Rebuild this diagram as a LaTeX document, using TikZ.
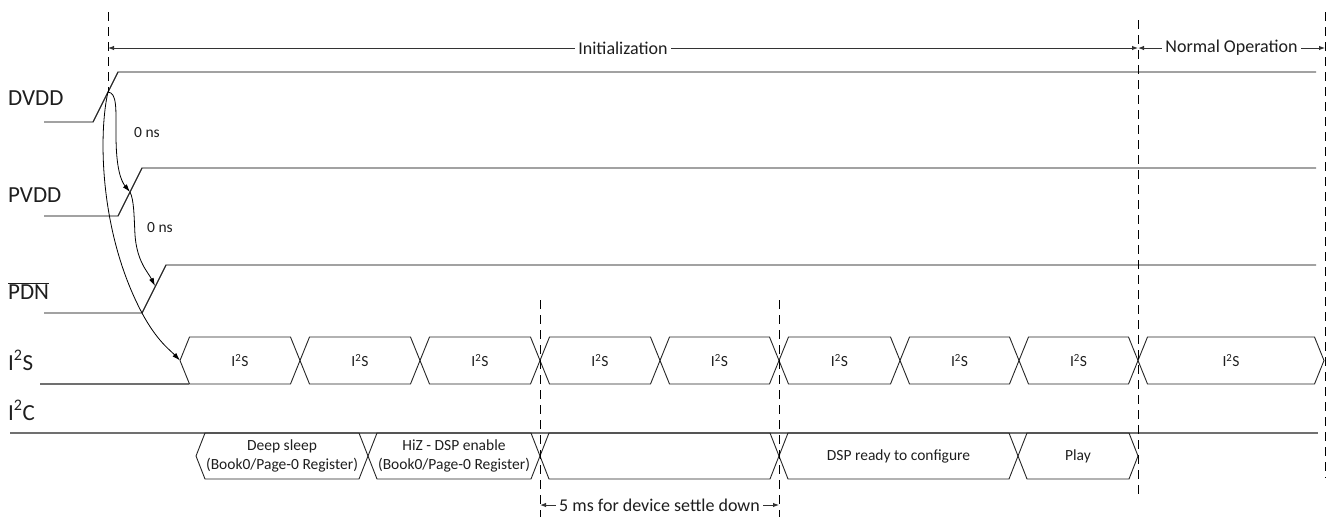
\documentclass[tikz,border=0pt]{standalone}
\usepackage{fontspec}
\setmainfont{Carlito}
\usetikzlibrary{arrows.meta}
\definecolor{sigc}{RGB}{112,112,112}
\definecolor{txtc}{RGB}{30,30,30}
\tikzset{
  sig/.style={draw=sigc, line width=1.2pt},
  edgeln/.style={draw=black!85, line width=0.9pt},
  guide/.style={draw=black, line width=1pt, dash pattern=on 9pt off 6pt},
  dimln/.style={draw=black!80, line width=1pt, {Latex[length=6pt,width=4.5pt]}-{Latex[length=6pt,width=4.5pt]}},
  dimtxt/.style={fill=white, text=txtc, inner xsep=3pt, inner ysep=1pt, font=\fontsize{18}{20}\selectfont},
  siglbl/.style={anchor=base west, inner sep=0pt, text=txtc, font=\fontsize{23}{27}\selectfont},
  boxtxt/.style={text=txtc, align=center, inner sep=0pt, font=\fontsize{15.5}{19}\selectfont},
  flow/.style={draw=black, line width=0.8pt, -{Latex[length=8pt,width=5pt]}},
}
\begin{document}
\begin{tikzpicture}[x=1pt,y=-1pt]
\useasboundingbox (0,0) rectangle (1327,517);

% ---- signal labels
\node[siglbl] (ldvdd) at (8,105) {DVDD};
\node[siglbl] (lpvdd) at (8,202) {PVDD};
\node[siglbl] (lpdn)  at (8,299) {$\overline{\mbox{PDN}}$};
\node[siglbl] (li2s)  at (8,370) {I\textsuperscript{2}S};
\node[siglbl] (li2c)  at (8,420) {I\textsuperscript{2}C};

% ---- key coordinates
\coordinate (dvlo) at (44,122);  \coordinate (dva) at (93,122);
\coordinate (dvb) at (118,72);   \coordinate (dvhi) at (1316,72);
\coordinate (pvlo) at (44,216);  \coordinate (pva) at (118,216);
\coordinate (pvb) at (142,168);  \coordinate (pvhi) at (1316,168);
\coordinate (pdlo) at (44,313);  \coordinate (pda) at (142,313);
\coordinate (pdb) at (166,265);  \coordinate (pdhi) at (1316,265);
\coordinate (dvmid) at (108,92);
\coordinate (pvmid) at (130,192);
\coordinate (pdmid) at (155,286);
\coordinate (islo) at (40,384);  \coordinate (isa) at (189,384);
\coordinate (isstart) at (180,360.5);
\coordinate (iclo) at (10,433);  \coordinate (ichi) at (1318,433);

% ---- signals
\draw[sig] (dvlo) -- (dva) -- (dvb) -- (dvhi);
\draw[edgeln] (dva) -- (dvb);
\draw[sig] (pvlo) -- (pva) -- (pvb) -- (pvhi);
\draw[edgeln] (pva) -- (pvb);
\draw[sig] (pdlo) -- (pda) -- (pdb) -- (pdhi);
\draw[edgeln] (pda) -- (pdb);
\draw[sig] (islo) -- (isa);
\draw[sig] (iclo) -- (ichi);

% ---- I2S bus
\foreach \a/\b [count=\i] in {180/300,300/420,420/540,540/660,660/779,779/900,900/1019,1019/1138,1138/1324}{
  \draw[edgeln] (\a,360.5) -- (\a+9.5,337) -- (\b-9.5,337) -- (\b,360.5) -- (\b-9.5,384) -- (\a+9.5,384) -- cycle;
  \node[boxtxt] (s\i) at ({(\a+\b)/2},360.5) {I\textsuperscript{2}S};
}

% ---- I2C bus
\foreach \a/\b [count=\i] in {196/368,368/540,540/779,779/1018,1018/1138}{
  \draw[edgeln] (\a,456) -- (\a+9,433) -- (\b-9,433) -- (\b,456) -- (\b-9,479) -- (\a+9,479) -- cycle;
  \coordinate (c\i) at ({(\a+\b)/2},456);
}
\node[boxtxt] (tdeep) at (c1) {Deep sleep\\(Book0/Page-0 Register)};
\node[boxtxt] (thiz)  at (c2) {HiZ - DSP enable\\(Book0/Page-0 Register)};
\node[boxtxt] (tdsp)  at (c4) {DSP ready to configure};
\node[boxtxt] (tplay) at (c5) {Play};

% ---- dashed guides
\coordinate (g1t) at (108,12);   \coordinate (g1b) at (108,92);
\coordinate (g2t) at (540,300);  \coordinate (g2b) at (540,517);
\coordinate (g3t) at (779,300);  \coordinate (g3b) at (779,517);
\coordinate (g4t) at (1138,20);  \coordinate (g4b) at (1138,494);
\coordinate (g5t) at (1325,12);  \coordinate (g5b) at (1325,478);
\draw[guide] (g1t) -- (g1b);
\draw[guide] (g2t) -- (g2b);
\draw[guide] (g3t) -- (g3b);
\draw[guide] (g4t) -- (g4b);
\draw[guide] (g5t) -- (g5b);

% ---- dimension arrows
\coordinate (in1) at (108,48);  \coordinate (in2) at (1138,48);
\coordinate (no2) at (1325,48);
\coordinate (ms1) at (540,505); \coordinate (ms2) at (779,505);
\draw[dimln] (in1) -- (in2) node[dimtxt, midway] (tinit) {Initialization};
\draw[dimln] (in2) -- (no2) node[dimtxt, midway] (tnorm) {Normal Operation};
\draw[dimln] (ms1) -- (ms2) node[dimtxt, midway] (tms) {5 ms for device settle down};

% ---- sequencing arrows
\draw[flow] (dvmid) .. controls (117,93) and (116,108) .. (116,135)
                    .. controls (116,168) and (121,181) .. (pvmid);
\draw[flow] (pvmid) .. controls (134,200) and (134,215) .. (135,235)
                    .. controls (137,262) and (148,272) .. (pdmid);
\draw[flow] (dvmid) .. controls (99,130) and (98,230) .. (pda)
                    .. controls (157,341) and (170,350) .. (isstart);
\node[boxtxt] (d1) at (147,133) {0 ns};
\node[boxtxt] (d2) at (160,228) {0 ns};
\end{tikzpicture}
\end{document}
